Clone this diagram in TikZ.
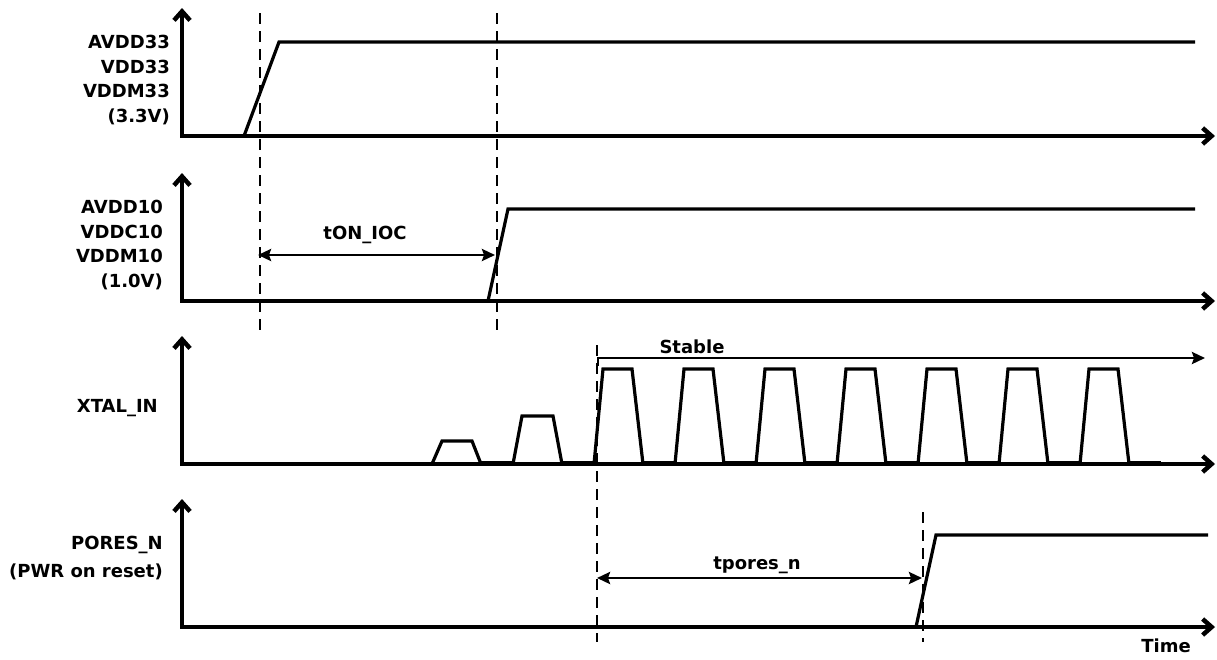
\documentclass[tikz,border=0pt]{standalone}
\usepackage{fontspec}
\setmainfont{DejaVu Sans}
\usetikzlibrary{arrows.meta}
\begin{document}
\begin{tikzpicture}[x=1pt,y=-1pt,
  axis/.style={line width=4.5pt, line join=miter, {Straight Barb[length=9pt,width=16pt]}-{Straight Barb[length=9pt,width=16pt]}},
  sig/.style={line width=3.2pt, line join=miter},
  low/.style={line width=5pt},
  guide/.style={line width=2.8pt, dash pattern=on 11pt off 7pt},
  dim/.style={line width=2.8pt, {Stealth[length=13pt,width=12pt,inset=2pt]}-{Stealth[length=13pt,width=12pt,inset=2pt]}},
  lbl/.style={font=\fontsize{18}{24.5}\selectfont\bfseries, align=right, anchor=east, inner sep=0pt},
  txt/.style={font=\fontsize{18}{20}\selectfont\bfseries, inner sep=0pt}
]
\useasboundingbox (0,0) rectangle (1217,659);
% axes
\coordinate (a1t) at (182,8);   \coordinate (a1e) at (1215,136);
\coordinate (a2t) at (182,173); \coordinate (a2e) at (1215,301);
\coordinate (a3t) at (182,336); \coordinate (a3e) at (1215,464);
\coordinate (a4t) at (182,499); \coordinate (a4e) at (1215,627);
\draw[axis] (a1t) |- (a1e);
\draw[axis] (a2t) |- (a2e);
\draw[axis] (a3t) |- (a3e);
\draw[axis] (a4t) |- (a4e);
% labels
\node[lbl] (l1) at (170,80) {AVDD33\\VDD33\\VDDM33\\(3.3V)};
\node[lbl] (l2) at (163,245) {AVDD10\\VDDC10\\VDDM10\\(1.0V)};
\node[lbl] (l3) at (158,408) {XTAL\_IN};
\node[lbl, font=\fontsize{18}{28}\selectfont\bfseries] (l4) at (163,558) {PORES\_N\\(PWR on reset)};
% signal 1
\coordinate (s1a) at (244,136); \coordinate (s1b) at (279,42); \coordinate (s1c) at (1195,42);
\draw[sig] (s1a) -- (s1b) -- (s1c);
% signal 2
\coordinate (s2a) at (488,301); \coordinate (s2b) at (508,209); \coordinate (s2c) at (1195,209);
\draw[sig] (s2a) -- (s2b) -- (s2c);
% signal 4
\coordinate (s4a) at (916,627); \coordinate (s4b) at (936,535); \coordinate (s4c) at (1208,535);
\draw[sig] (s4a) -- (s4b) -- (s4c);
% guides
\coordinate (g1t) at (260,13);  \coordinate (g1b) at (260,332);
\coordinate (g2t) at (497,13);  \coordinate (g2b) at (497,332);
\coordinate (g3t) at (597,345); \coordinate (g3b) at (597,642);
\coordinate (g4t) at (923,512); \coordinate (g4b) at (923,642);
\draw[guide] (g1t) -- (g1b);
\draw[guide] (g2t) -- (g2b);
\draw[guide] (g3t) -- (g3b);
\draw[guide] (g4t) -- (g4b);
% dimensions
\coordinate (d1a) at (258,255); \coordinate (d1b) at (495,255);
\draw[dim] (d1a) -- (d1b);
\node[txt] (ton) at (365,235) {tON\_IOC};
\coordinate (d2a) at (597,578); \coordinate (d2b) at (922,578);
\draw[dim] (d2a) -- (d2b);
\node[txt] (tpo) at (757,565) {tpores\_n};
% stable
\coordinate (st0) at (598,366); \coordinate (st1) at (1205,358);
\draw[line width=2.8pt, -{Stealth[length=13pt,width=12pt,inset=2pt]}] (st0) |- (st1);
\node[txt] (stb) at (692,347) {Stable};
% time
\node[txt] (time) at (1166,646) {Time};
% xtal waveform
\draw[sig] (432,464) -- (442,441) -- (472,441) -- (481,464);
\draw[line width=4pt] (481,463) -- (513,463);
\draw[sig] (513,464) -- (522,416) -- (553,416) -- (562,464);
\draw[low] (562,463) -- (594,463);
\foreach \k in {0,...,6} {
  \pgfmathsetmacro{\xa}{594+81*\k}
  \draw[sig] (\xa,464) -- (\xa+9,369) -- (\xa+38,369) -- (\xa+49,464);
  \draw[low] (\xa+49,463) -- (\xa+81,463);
}
\end{tikzpicture}
\end{document}
